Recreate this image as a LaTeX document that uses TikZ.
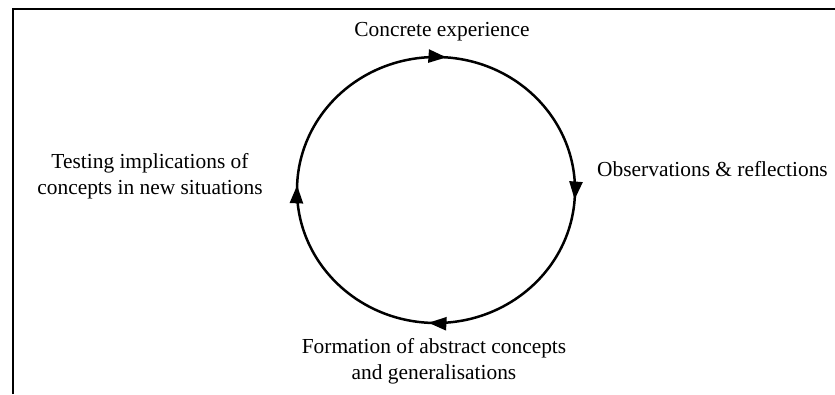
\documentclass[tikz,border=0pt]{standalone}
\usepackage{fontspec}
\setmainfont{Liberation Serif}
\usetikzlibrary{arrows.meta,decorations.markings}

\begin{document}
\begin{tikzpicture}[x=1pt,y=1pt,
  every node/.style={font=\fontsize{21.4}{26}\selectfont,inner sep=0pt,align=center},
  cycle/.style={line width=2.5pt,postaction={decorate},
    decoration={markings,mark=at position 0.998 with {\arrow{Triangle[length=18pt,width=13pt]}}}}]
\useasboundingbox (0,0) rectangle (835,394);
\draw[line width=2.2pt] (12.7,0) -- (12.7,385) -- (835,385);
% the learning cycle
\coordinate (C) at (436,204);
\coordinate (p1) at ([shift={(177.8:139 and 133)}]C);
\coordinate (p2) at ([shift={(85.5:139 and 133)}]C);
\coordinate (p3) at ([shift={(-4.3:139 and 133)}]C);
\coordinate (p4) at ([shift={(-93.3:139 and 133)}]C);
\draw[cycle] (p1) arc[start angle=177.8,end angle=85.5,x radius=139pt,y radius=133pt];
\draw[cycle] (p2) arc[start angle=85.5,end angle=-4.3,x radius=139pt,y radius=133pt];
\draw[cycle] (p3) arc[start angle=-4.3,end angle=-93.3,x radius=139pt,y radius=133pt];
\draw[cycle] (p4) arc[start angle=-93.3,end angle=-182.2,x radius=139pt,y radius=133pt];
% stages
\node[anchor=base] (exp) at (442,357) {Concrete experience};
\node[anchor=base west] (obs) at (597,217) {Observations \& reflections};
\node[anchor=base] (abs) at (434,15) {Formation of abstract concepts\\and generalisations};
\node[anchor=base] (test) at (150,199) {Testing implications of\\concepts in new situations};
\end{tikzpicture}
\end{document}
